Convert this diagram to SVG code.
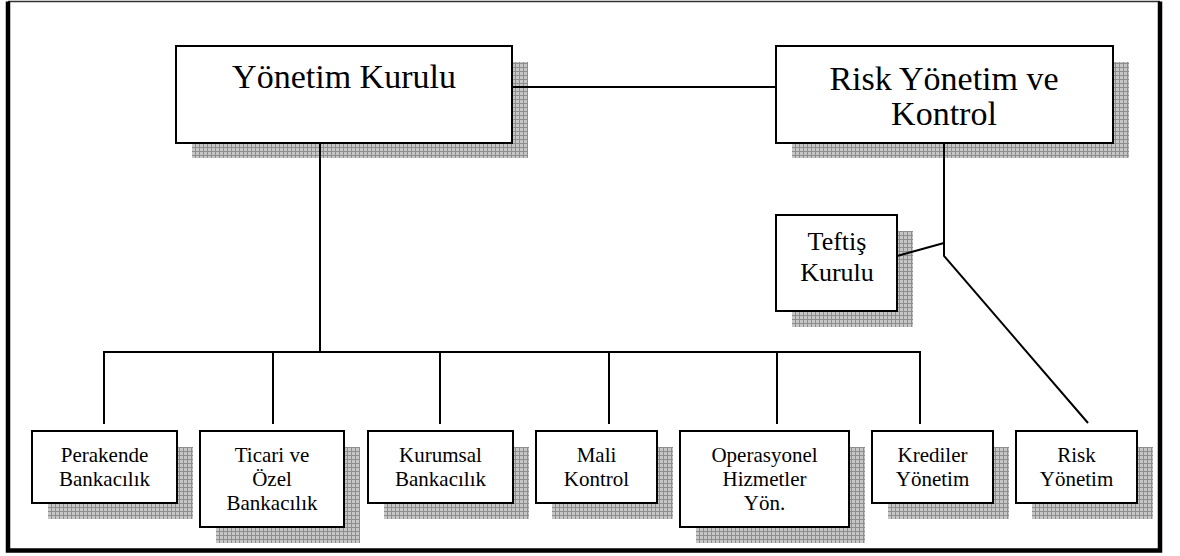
<svg xmlns="http://www.w3.org/2000/svg" width="1180" height="556" viewBox="0 0 1180 556">
<defs>
<pattern id="grid" width="4" height="4" patternUnits="userSpaceOnUse">
<rect width="4" height="4" fill="#c6c6c6"/>
<path d="M3.5,0 V4 M0,3.5 H4" stroke="#8e8e8e" stroke-width="1"/>
</pattern>
<style>
.box{fill:#fff;stroke:#000;stroke-width:2}
.sh{fill:url(#grid)}
.t{font-family:"Liberation Serif","Times New Roman",serif;fill:#000;text-anchor:middle}
.big{font-size:34px}
.mid{font-size:26px}
.sm{font-size:21px}
.c{fill:none;stroke:#000;stroke-width:2}
</style>
</defs>
<rect width="1180" height="556" fill="#fff"/>
<g id="frame">
<path d="M8,1.5 H1160" stroke="#333" stroke-width="1.5" fill="none"/>
<path d="M8,1.5 V550.5 H1160 V1.5" stroke="#000" stroke-width="4.5" fill="none"/>
</g>
<g id="yonetim-kurulu">
<rect class="sh" x="192" y="62" width="336" height="96"/>
<rect class="box" x="176" y="46" width="336" height="97"/>
<text class="t big" x="344" y="88">Yönetim Kurulu</text>
</g>
<g id="risk-yonetim-kontrol">
<rect class="sh" x="792" y="62" width="337" height="96"/>
<rect class="box" x="776" y="46" width="337" height="97"/>
<text class="t big" x="944" y="90">Risk Yönetim ve</text>
<text class="t big" x="944" y="125">Kontrol</text>
</g>
<g id="teftis-kurulu">
<rect class="sh" x="792" y="231" width="121" height="96"/>
<rect class="box" x="776" y="215" width="121" height="96"/>
<text class="t mid" x="837" y="250">Teftiş</text>
<text class="t mid" x="837" y="281">Kurulu</text>
</g>
<g id="perakende">
<rect class="sh" x="48" y="447" width="145" height="72"/>
<rect class="box" x="32" y="431" width="145" height="72"/>
<text class="t sm" x="104.5" y="462">Perakende</text>
<text class="t sm" x="104.5" y="486">Bankacılık</text>
</g>
<g id="ticari">
<rect class="sh" x="216" y="447" width="144" height="96"/>
<rect class="box" x="200" y="431" width="144" height="96"/>
<text class="t sm" x="272" y="462">Ticari ve</text>
<text class="t sm" x="272" y="486">Özel</text>
<text class="t sm" x="272" y="510">Bankacılık</text>
</g>
<g id="kurumsal">
<rect class="sh" x="384" y="447" width="145" height="72"/>
<rect class="box" x="368" y="431" width="145" height="72"/>
<text class="t sm" x="440.5" y="462">Kurumsal</text>
<text class="t sm" x="440.5" y="486">Bankacılık</text>
</g>
<g id="mali-kontrol">
<rect class="sh" x="552" y="447" width="121" height="72"/>
<rect class="box" x="536" y="431" width="121" height="72"/>
<text class="t sm" x="596.5" y="462">Mali</text>
<text class="t sm" x="596.5" y="486">Kontrol</text>
</g>
<g id="operasyonel">
<rect class="sh" x="696" y="447" width="169" height="96"/>
<rect class="box" x="680" y="431" width="169" height="96"/>
<text class="t sm" x="764.5" y="462">Operasyonel</text>
<text class="t sm" x="764.5" y="486">Hizmetler</text>
<text class="t sm" x="764.5" y="510">Yön.</text>
</g>
<g id="krediler">
<rect class="sh" x="888" y="447" width="121" height="72"/>
<rect class="box" x="872" y="431" width="121" height="72"/>
<text class="t sm" x="932.5" y="462">Krediler</text>
<text class="t sm" x="932.5" y="486">Yönetim</text>
</g>
<g id="risk-yonetim">
<rect class="sh" x="1032" y="447" width="121" height="72"/>
<rect class="box" x="1016" y="431" width="121" height="72"/>
<text class="t sm" x="1076.5" y="462">Risk</text>
<text class="t sm" x="1076.5" y="486">Yönetim</text>
</g>
<g id="connectors">
<path class="c" d="M512,87 H776"/>
<path class="c" d="M320,143 V352"/>
<path class="c" d="M104,424 V352 H920 V424"/>
<path class="c" d="M273,352 V424 M440,352 V424 M609,352 V424 M777,352 V424"/>
<path class="c" d="M944,143 V256 L1088,423"/>
<path class="c" d="M897,256 L944,243"/>
</g>
</svg>
